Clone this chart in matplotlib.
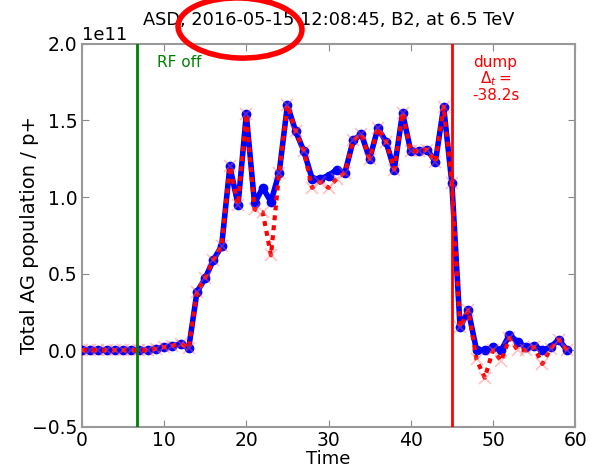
import numpy as np
import matplotlib
matplotlib.use("Agg")
import matplotlib.pyplot as plt
from matplotlib.patches import Ellipse

# time index (one sample per step)
t = np.arange(60)

# blue: total population (units of 1e11)
blue = [0.0, 0.0, 0.0, 0.0, 0.0, 0.0, 0.0, 0.0, 0.0, 0.01,
        0.02, 0.03, 0.04, 0.015, 0.38, 0.47, 0.59, 0.68, 1.20, 0.95,
        1.54, 0.96, 1.06, 0.97, 1.16, 1.60, 1.43, 1.30, 1.12, 1.12,
        1.14, 1.18, 1.16, 1.37, 1.41, 1.25, 1.45, 1.36, 1.18, 1.55,
        1.30, 1.30, 1.31, 1.23, 1.59, 1.09, 0.15, 0.26, 0.0, 0.0,
        0.02, 0.0, 0.10, 0.055, 0.02, 0.03, 0.0, 0.02, 0.07, 0.0]

# red: same but with corrected values
red = [0.0, 0.0, 0.0, 0.0, 0.0, 0.0, 0.0, 0.0, 0.0, 0.01,
       0.02, 0.03, 0.04, 0.015, 0.38, 0.47, 0.59, 0.68, 1.20, 0.95,
       1.54, 0.92, 0.90, 0.62, 1.16, 1.60, 1.43, 1.30, 1.06, 1.10,
       1.06, 1.12, 1.16, 1.37, 1.41, 1.25, 1.45, 1.36, 1.18, 1.55,
       1.30, 1.30, 1.31, 1.23, 1.59, 1.09, 0.15, 0.26, -0.06, -0.18,
       0.0, -0.07, 0.08, 0.0, 0.0, 0.02, -0.09, 0.01, 0.07, 0.0]

t_rf = 6.7
t_dump = 45.0
scale = 1e11

fig = plt.figure(figsize=(5.93, 4.67), dpi=100)
ax = fig.add_axes([0.138, 0.086, 0.832, 0.820])

ax.plot(t, np.array(blue) * scale, 'b-o', lw=4, ms=6, mec='b', zorder=3)
ax.plot(t, np.array(red) * scale, color='r', ls=(0, (1.2, 1.2)), lw=3,
        marker='x', ms=9, mec=(1, 0.4, 0.4, 0.4), mew=1.2, zorder=4)

ax.axvline(t_rf, color='g', lw=2, zorder=5)
ax.axvline(t_dump, color='r', lw=2, zorder=5)

ax.text(t_rf + 2.5, 1.93e11, 'RF off', color='g', fontsize=11, va='top', ha='left')
ax.text(50.3, 1.93e11, 'dump\n$\\Delta_t =$\n-38.2s', color='r', fontsize=11,
        va='top', ha='center', linespacing=1.0)

ax.set_xlim(0, 60)
ax.set_ylim(-0.5e11, 2.0e11)
ax.set_xticks(range(0, 61, 10))
ax.set_yticks(np.arange(-0.5, 2.01, 0.5) * scale)
ax.ticklabel_format(axis='y', style='sci', scilimits=(0, 0))
ax.yaxis.get_offset_text().set_fontsize(13)
ax.tick_params(direction='in', top=True, right=True, labelsize=13.5,
               length=5, color='#888888', pad=3)
for s in ax.spines.values():
    s.set_color('#999999')
    s.set_linewidth(1.5)

ax.set_xlabel('Time', fontsize=13, labelpad=0)
ax.set_ylabel('Total AG population / p+', fontsize=14, labelpad=-5)
fig.text(0.554, 1 - 20 / 467, 'ASD, 2016-05-15 12:08:45, B2, at 6.5 TeV',
         fontsize=12.8, ha='center', va='center')

# highlight ring around the date
ring = Ellipse((240 / 593, 1 - 28 / 467), 124 / 593, 60 / 467, angle=-3,
               transform=fig.transFigure, fill=False, ec='r', lw=4, zorder=10)
fig.patches.append(ring)

fig.savefig('out.png', dpi=100)
